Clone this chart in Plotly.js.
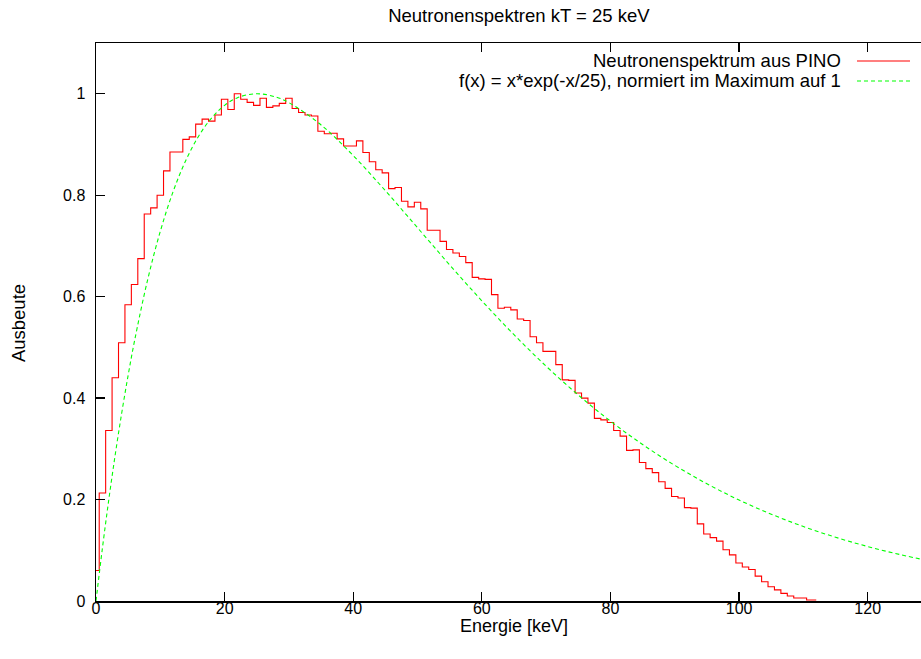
<!DOCTYPE html>
<html><head><meta charset="utf-8">
<script src="https://cdn.plot.ly/plotly-3.0.1.min.js"></script>
<style>html,body{margin:0;padding:0;overflow:hidden;background:#fff;} #chart{width:940px;height:659px;}</style>
</head><body><div id="chart"></div>
<script>
// PINO neutron spectrum, 1 keV bins (bin centres in keV)
const energy = [0,1,2,3,4,5,6,7,8,9,10,11,12,13,14,15,16,17,18,19,20,21,22,23,24,25,26,27,28,29,30,31,32,33,34,35,36,37,38,39,40,41,42,43,44,45,46,47,48,49,50,51,52,53,54,55,56,57,58,59,60,61,62,63,64,65,66,67,68,69,70,71,72,73,74,75,76,77,78,79,80,81,82,83,84,85,86,87,88,89,90,91,92,93,94,95,96,97,98,99,100,101,102,103,104,105,106,107,108,109,110,111,112];
const pinoYield = [0.06,0.213,0.336,0.440,0.509,0.584,0.624,0.675,0.763,0.775,
  0.800,0.848,0.885,0.885,0.910,0.915,0.940,0.950,0.946,0.958,
  0.989,0.969,1.000,0.989,0.983,0.977,0.991,0.973,0.976,0.981,
  0.991,0.971,0.963,0.958,0.956,0.926,0.921,0.922,0.911,0.897,
  0.897,0.907,0.884,0.866,0.850,0.844,0.813,0.815,0.788,0.777,
  0.786,0.773,0.731,0.731,0.709,0.693,0.686,0.679,0.667,0.638,
  0.635,0.634,0.604,0.577,0.579,0.574,0.556,0.553,0.521,0.509,
  0.492,0.492,0.466,0.436,0.435,0.410,0.400,0.390,0.360,0.357,
  0.352,0.336,0.325,0.297,0.298,0.273,0.261,0.253,0.235,0.222,
  0.206,0.203,0.184,0.183,0.152,0.132,0.125,0.118,0.101,0.091,
  0.075,0.067,0.062,0.049,0.038,0.028,0.022,0.015,0.010,0.006,
  0.006,0.002,0.002];
// f(x) = x*exp(-x/25), normalised to 1 at maximum
const fitEnergy = [0,1,2,3,4,5,6,8,10,12,14,16,18,20,22,25,28,30,35,40,45,50,55,60,65,70,75,80,85,90,95,100,105,110,115,120,125,130];
const fitYield = [0,0.1045,0.2007,0.2893,0.3706,0.4451,0.5132,0.6317,0.7288,0.8074,0.8695,0.9173,0.9526,0.9771,0.9922,1.0,0.9933,0.9825,0.9384,0.8781,0.8088,0.7358,0.6626,0.5918,0.5249,0.4628,0.4060,0.3546,0.3085,0.2674,0.2311,0.1991,0.1712,0.1468,0.1257,0.1074,0.0916,0.0780];
const xTickVals = [0,20,40,60,80,100,120];
const yTickVals = [0,0.2,0.4,0.6,0.8,1];
const yTickText = ['0','0.2','0.4','0.6','0.8','1'];
const seriesNames = ['Neutronenspektrum aus PINO','f(x) = x*exp(-x/25), normiert im Maximum auf 1'];

const FONT = 'Liberation Sans, Arial, Helvetica, sans-serif';
const TXT = 18.5;
const RED = '#ff0000', GREEN = '#00ff00';

const traces = [
  {x: energy, y: pinoYield, type: 'scatter', mode: 'lines', name: seriesNames[0],
   line: {shape: 'hvh', color: RED, width: 1.1}, showlegend: false},
  {x: fitEnergy, y: fitYield, type: 'scatter', mode: 'lines', name: seriesNames[1],
   line: {shape: 'spline', color: GREEN, width: 1.1, dash: '4px,3px'}, showlegend: false}
];

const axisCommon = {
  showgrid: false, zeroline: false, showline: true, mirror: 'ticks',
  linecolor: '#000', linewidth: 1.5, ticks: 'inside', ticklen: 9, tickwidth: 1.2, tickcolor: '#000',
  tickfont: {family: FONT, size: 16, color: '#000'}
};

const layout = {
  width: 940, height: 659,
  margin: {l: 96, r: 8, t: 43, b: 58},
  paper_bgcolor: '#fff', plot_bgcolor: '#fff',
  font: {family: FONT, size: 16, color: '#000'},
  title: {text: 'Neutronenspektren kT = 25 keV', font: {family: FONT, size: TXT, color: '#000'},
          x: 0.552, xanchor: 'center', y: 1 - 16/659, yanchor: 'middle'},
  xaxis: Object.assign({}, axisCommon, {range: [0, 130], tickvals: xTickVals, ticklabelstandoff: -8}),
  yaxis: Object.assign({}, axisCommon, {range: [0, 1.1], tickvals: yTickVals, ticktext: yTickText, ticklabelstandoff: 6}),
  showlegend: false,
  annotations: [
    {text: 'Energie [keV]', xref: 'paper', yref: 'paper', x: 0.5, y: 0, xanchor: 'center', yanchor: 'middle',
     yshift: -25, showarrow: false, font: {family: FONT, size: 18}},
    {text: 'Ausbeute', xref: 'paper', yref: 'paper', x: 0, y: 0.498, xanchor: 'center', yanchor: 'middle',
     xshift: -78, textangle: -90, showarrow: false, font: {family: FONT, size: TXT}},
    {text: seriesNames[0], xref: 'paper', yref: 'paper', x: (843-96)/836, y: (601-61)/558, xanchor: 'right', yanchor: 'middle',
     showarrow: false, font: {family: FONT, size: TXT}},
    {text: seriesNames[1], xref: 'paper', yref: 'paper', x: (843-96)/836, y: (601-81)/558, xanchor: 'right', yanchor: 'middle',
     showarrow: false, font: {family: FONT, size: TXT}}
  ],
  shapes: [
    {type: 'line', xref: 'paper', yref: 'paper', x0: (857-96)/836, x1: (910-96)/836, y0: (601-61)/558, y1: (601-61)/558,
     line: {color: RED, width: 1.1}},
    {type: 'line', xref: 'paper', yref: 'paper', x0: (857-96)/836, x1: (910-96)/836, y0: (601-81)/558, y1: (601-81)/558,
     line: {color: GREEN, width: 1.1, dash: '4px,3px'}}
  ]
};

Plotly.newPlot('chart', traces, layout, {displayModeBar: false, staticPlot: true});
</script>
</body></html>
